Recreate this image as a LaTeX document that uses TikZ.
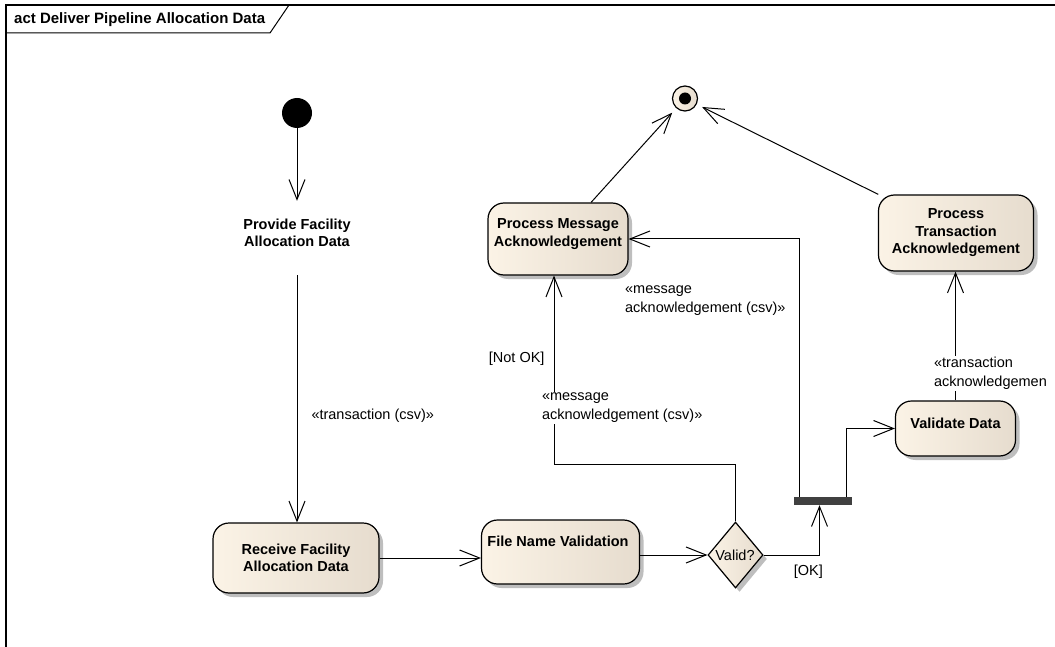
\documentclass[tikz,border=0pt]{standalone}
\usepackage{fontspec}
\setmainfont{Liberation Sans}
\usetikzlibrary{arrows.meta,shapes.geometric,shadows,positioning}

\definecolor{actleft}{HTML}{FBF3E6}
\definecolor{actright}{HTML}{E6DCCE}
\definecolor{shadowgray}{HTML}{BEBEBE}
\definecolor{forkbar}{HTML}{404040}

\tikzstyle{action}=[rectangle,rounded corners=16pt,draw=black,line width=1.2pt,
  left color=actleft,right color=actright,
  drop shadow={shadow xshift=4pt,shadow yshift=-4pt,fill=shadowgray,opacity=1},
  font=\bfseries\fontsize{14.5}{17.5}\selectfont,align=center]
\tikzstyle{decision}=[diamond,draw=black,line width=1.2pt,inner sep=0pt,
  left color=actleft,right color=actright,
  drop shadow={shadow xshift=4pt,shadow yshift=-4pt,fill=shadowgray,opacity=1}]
\tikzstyle{ghost}=[rectangle]
\tikzstyle{acttext}=[font=\bfseries\fontsize{14.5}{17.5}\selectfont,align=center,inner sep=0pt]
\tikzstyle{note}=[font=\fontsize{14.5}{19}\selectfont,align=left,inner sep=1pt,fill=white]
\tikzstyle{flow}=[line width=1pt,-{Straight Barb[length=20pt,width=16pt]}]

\begin{document}
\begin{tikzpicture}[x=1pt,y=-1pt,inner sep=2pt]
  \useasboundingbox (0,0) rectangle (1055,647);
  % frame and its tab
  \draw[line width=1.5pt] (6,647) -- (6,5) -- (1055,5);
  \draw[line width=1pt] (6,33) -- (270,33) -- (289,5);
  \node[anchor=west,font=\bfseries\fontsize{15}{18}\selectfont] (title) at (12,20)
    {act Deliver Pipeline Allocation Data};

  \node[circle,fill=black,minimum size=30pt,inner sep=0pt] (start) at (297,113) {};
  \node[ghost,minimum width=140pt,minimum height=74pt] (provide) at (297,238) {};
  \node[acttext] (provide text) at (297,233) {Provide Facility\\Allocation Data};

  \node[action,minimum width=166pt,minimum height=70pt] (receive) at (296,558)
    {Receive Facility\\Allocation Data};
  \node[action,minimum width=158pt,minimum height=64pt] (fnv) at (560.5,552) {};
  \node[acttext] (fnv text) at (558,541) {File Name Validation};

  \node[decision,minimum width=55pt,minimum height=66pt] (valid) at (735.5,555) {};
  \node[font=\fontsize{14.5}{19}\selectfont,inner sep=0pt] (valid text) at (735,555) {Valid?};

  \node[rectangle,fill=forkbar,minimum width=58pt,minimum height=8pt,inner sep=0pt]
    (bar) at (823,501) {};

  \node[action,minimum width=140pt,minimum height=72pt] (pma) at (558,239) {};
  \node[acttext] (pma text) at (558,234) {Process Message\\Acknowledgement};

  \node[action,minimum width=155pt,minimum height=76pt] (pta) at (956,233)
    {Process\\Transaction\\Acknowledgement};
  \node[action,minimum width=120pt,minimum height=55pt] (vd) at (955.5,428.5) {};
  \node[acttext] (vd text) at (955.5,423) {Validate Data};

  \node[circle,draw=black,line width=1.2pt,left color=actleft,right color=actright,
    minimum size=25pt,inner sep=0pt] (final) at (685,98.5) {};
  \node[circle,fill=black,minimum size=12pt,inner sep=0pt] (final dot) at (final) {};

  % flows
  \draw[flow] (start) -- (provide);
  \draw[flow] (provide.south) -- (provide.south |- receive.north)
    node[note,pos=0.57,right=13pt] (lbl transaction) {«transaction (csv)»};
  \draw[flow] (receive.east) -- (receive.east -| fnv.west);
  \draw[flow] (fnv.east |- valid.west) -- (valid.west);
  \draw[flow] (valid.east) -| node[note,pos=0.4,below=8pt] (lbl ok) {[OK]}
    ([xshift=-3.5pt]bar.south);
  \draw[flow] ([xshift=-24pt]bar.north) |- node[note,pos=0.38,anchor=east,xshift=-12pt]
    (lbl msg right) {«message\\acknowledgement (csv)»} (pma.east);
  \draw[flow] ([xshift=23pt]bar.north) |- (vd.west);
  \draw[flow] (valid.north) -- ++(0,-57)
    -| node[note,pos=0.78,left=8pt] (lbl notok) {[Not OK]}
       node[note,pos=0.65,anchor=west,xshift=-13.5pt] (lbl msg left)
         {«message\\acknowledgement (csv)»}
    ([xshift=-4pt]pma.south);
  \draw[flow] (vd.north) -- (vd.north |- pta.south)
    node[note,pos=0.21,anchor=west,xshift=-23pt] (lbl trans ack)
      {«transaction\\acknowledgemen};
  \draw[flow,shorten >=6pt] (pma) -- (final);
  \draw[flow,shorten >=6pt] (pta) -- (final);
\end{tikzpicture}
\end{document}
